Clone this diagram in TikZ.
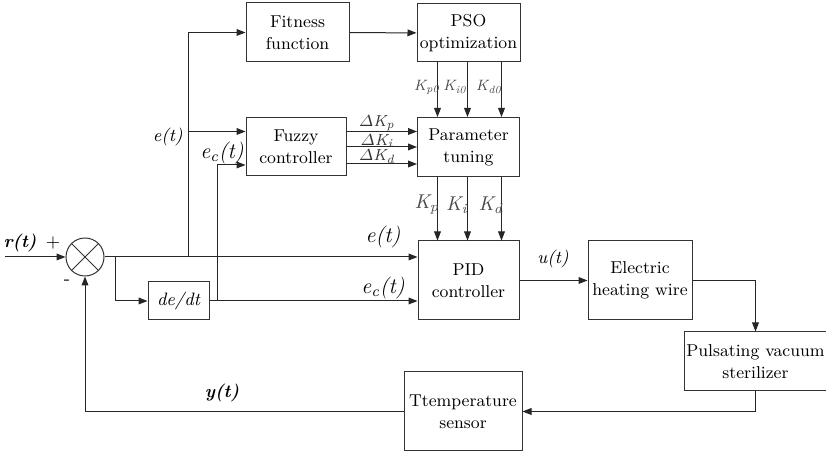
\documentclass[tikz,border=0pt]{standalone}
\usepackage{amsmath}
\usepackage{fontspec}
\usetikzlibrary{calc,positioning,arrows.meta,shapes.geometric}
\tikzset{
  >={Triangle[length=4.5pt,width=3.4pt]},
  block/.style={rectangle, draw=black!80, line width=0.5pt, align=center,
    inner sep=1pt, font=\fontsize{8.6}{11}\selectfont},
  line/.style={draw=black!85, line width=0.5pt, ->},
  lab/.style={inner sep=0pt, font=\fontsize{9}{11}\selectfont\itshape},
}

\begin{document}
\begin{tikzpicture}[x=0.5pt, y=-0.5pt]
  \tikzset{
      boldlab/.style={lab, font=\fontsize{9}{11}\selectfont\bfseries\itshape},
      biglab/.style={lab, font=\fontsize{11}{13}\selectfont\itshape},
      klab/.style={lab, text=black!70, font=\fontsize{10}{12}\selectfont\itshape},
      kzlab/.style={lab, text=black!70, font=\fontsize{7.5}{9}\selectfont\itshape},
      dlab/.style={lab, text=black!80, font=\fontsize{8}{9}\selectfont\itshape},
      summer/.style={circle, draw=black!80, line width=0.5pt, minimum size=19pt, inner sep=0pt},
  }
  \useasboundingbox (0,0) rectangle (826,453);

  % blocks
  \node[block, minimum width=51.5pt, minimum height=29.5pt] (fit) at (297.5,32.5) {Fitness\\function};
  \node[block, minimum width=51.5pt, minimum height=29pt] (pso) at (468.5,33) {PSO\\optimization};
  \node[block, minimum width=50pt, minimum height=29pt] (fuzzy) at (296,147) {Fuzzy\\controller};
  \node[block, minimum width=51pt, minimum height=29.5pt] (tune) at (468.5,147) {Parameter\\tuning};
  \node[block, minimum width=50.5pt, minimum height=39.5pt] (pid) at (468.5,280.5) {PID\\controller};
  \node[block, minimum width=52pt, minimum height=39.5pt] (heat) at (640,280.5) {Electric\\heating wire};
  \node[block, minimum width=69.5pt, minimum height=29.5pt] (ster) at (755.5,361.5) {Pulsating vacuum\\sterilizer};
  \node[block, minimum width=59pt, minimum height=39.5pt] (sens) at (463,411.5) {Ttemperature\\sensor};
  \node[block, minimum width=30.5pt, minimum height=19pt, font=\fontsize{9}{11}\selectfont\itshape] (deriv) at (178.5,301) {de/dt};
  \node[summer] (sum) at (85,257) {};
  \draw[draw=black!80, line width=0.5pt] (sum.45) -- (sum.225) (sum.135) -- (sum.315);

  % helper points
  \coordinate (rin) at (5,257);
  \coordinate (br1) at (115,257);
  \coordinate (br2) at (188,257);
  \coordinate (br3) at (217,301);
  \coordinate (fzin1) at ($(fuzzy.west)+(0,-15.5)$);
  \coordinate (fzin2) at ($(fuzzy.west)+(0,18)$);

  % connectors
  \path[line] (rin) -- (sum);
  \path[line] (sum) -- (sum -| pid.west);
  \path[line] (br1) |- (deriv);
  \path[line] (br2) |- (fit);
  \path[line] (br2 |- fzin1) -- (fzin1);
  \path[line] (deriv) -- (deriv -| pid.west);
  \path[line] (br3) |- (fzin2);
  \path[line] (fit) -- (pso);
  \foreach \dx in {-31,-1,33} {
    \path[line] ($(pso.south)+(\dx,0)$) -- ($(tune.north)+(\dx,0)$);
    \path[line] ($(tune.south)+(\dx,0)$) -- ($(pid.north)+(\dx,0)$);
  }
  \foreach \dy in {-15.5,0,17} {
    \path[line] ($(fuzzy.east)+(0,\dy)$) -- ($(tune.west)+(0,\dy)$);
  }
  \path[line] (pid) -- (heat);
  \path[line] (heat) -| (ster);
  \path[line] (ster) |- (sens);
  \path[line] (sens) -| (sum);

  % labels
  \node[boldlab] (rlab) at (20,243) {r(t)};
  \node[lab, font=\fontsize{9}{11}\selectfont] (plus) at (53,243) {+};
  \node[lab, font=\fontsize{9}{11}\selectfont] (minus) at (67,282) {-};
  \node[lab, anchor=east] (elab1) at (183,137) {e(t)};
  \node[biglab] (eclab1) at (222,153) {e\textsubscript{c}(t)};
  \node[biglab] (elab2) at (383,237) {e(t)};
  \node[biglab] (eclab2) at (383,288) {e\textsubscript{c}(t)};
  \node[lab] (ulab) at (553,259) {u(t)};
  \node[boldlab] (ylab) at (222,393) {y(t)};
  \node[dlab] (dkp) at (377,123) {$\varDelta$K\textsubscript{p}};
  \node[dlab] (dki) at (377,141) {$\varDelta$K\textsubscript{i}};
  \node[dlab] (dkd) at (377,157) {$\varDelta$K\textsubscript{d}};
  \node[kzlab] (kp0) at (427,87) {K\textsubscript{p0}};
  \node[kzlab] (ki0) at (455,87) {K\textsubscript{i0}};
  \node[kzlab] (kd0) at (489,87) {K\textsubscript{d0}};
  \node[klab] (kp) at (427,205) {K\textsubscript{p}};
  \node[klab] (ki) at (457,205) {K\textsubscript{i}};
  \node[klab] (kd) at (491,205) {K\textsubscript{d}};
\end{tikzpicture}
\end{document}
